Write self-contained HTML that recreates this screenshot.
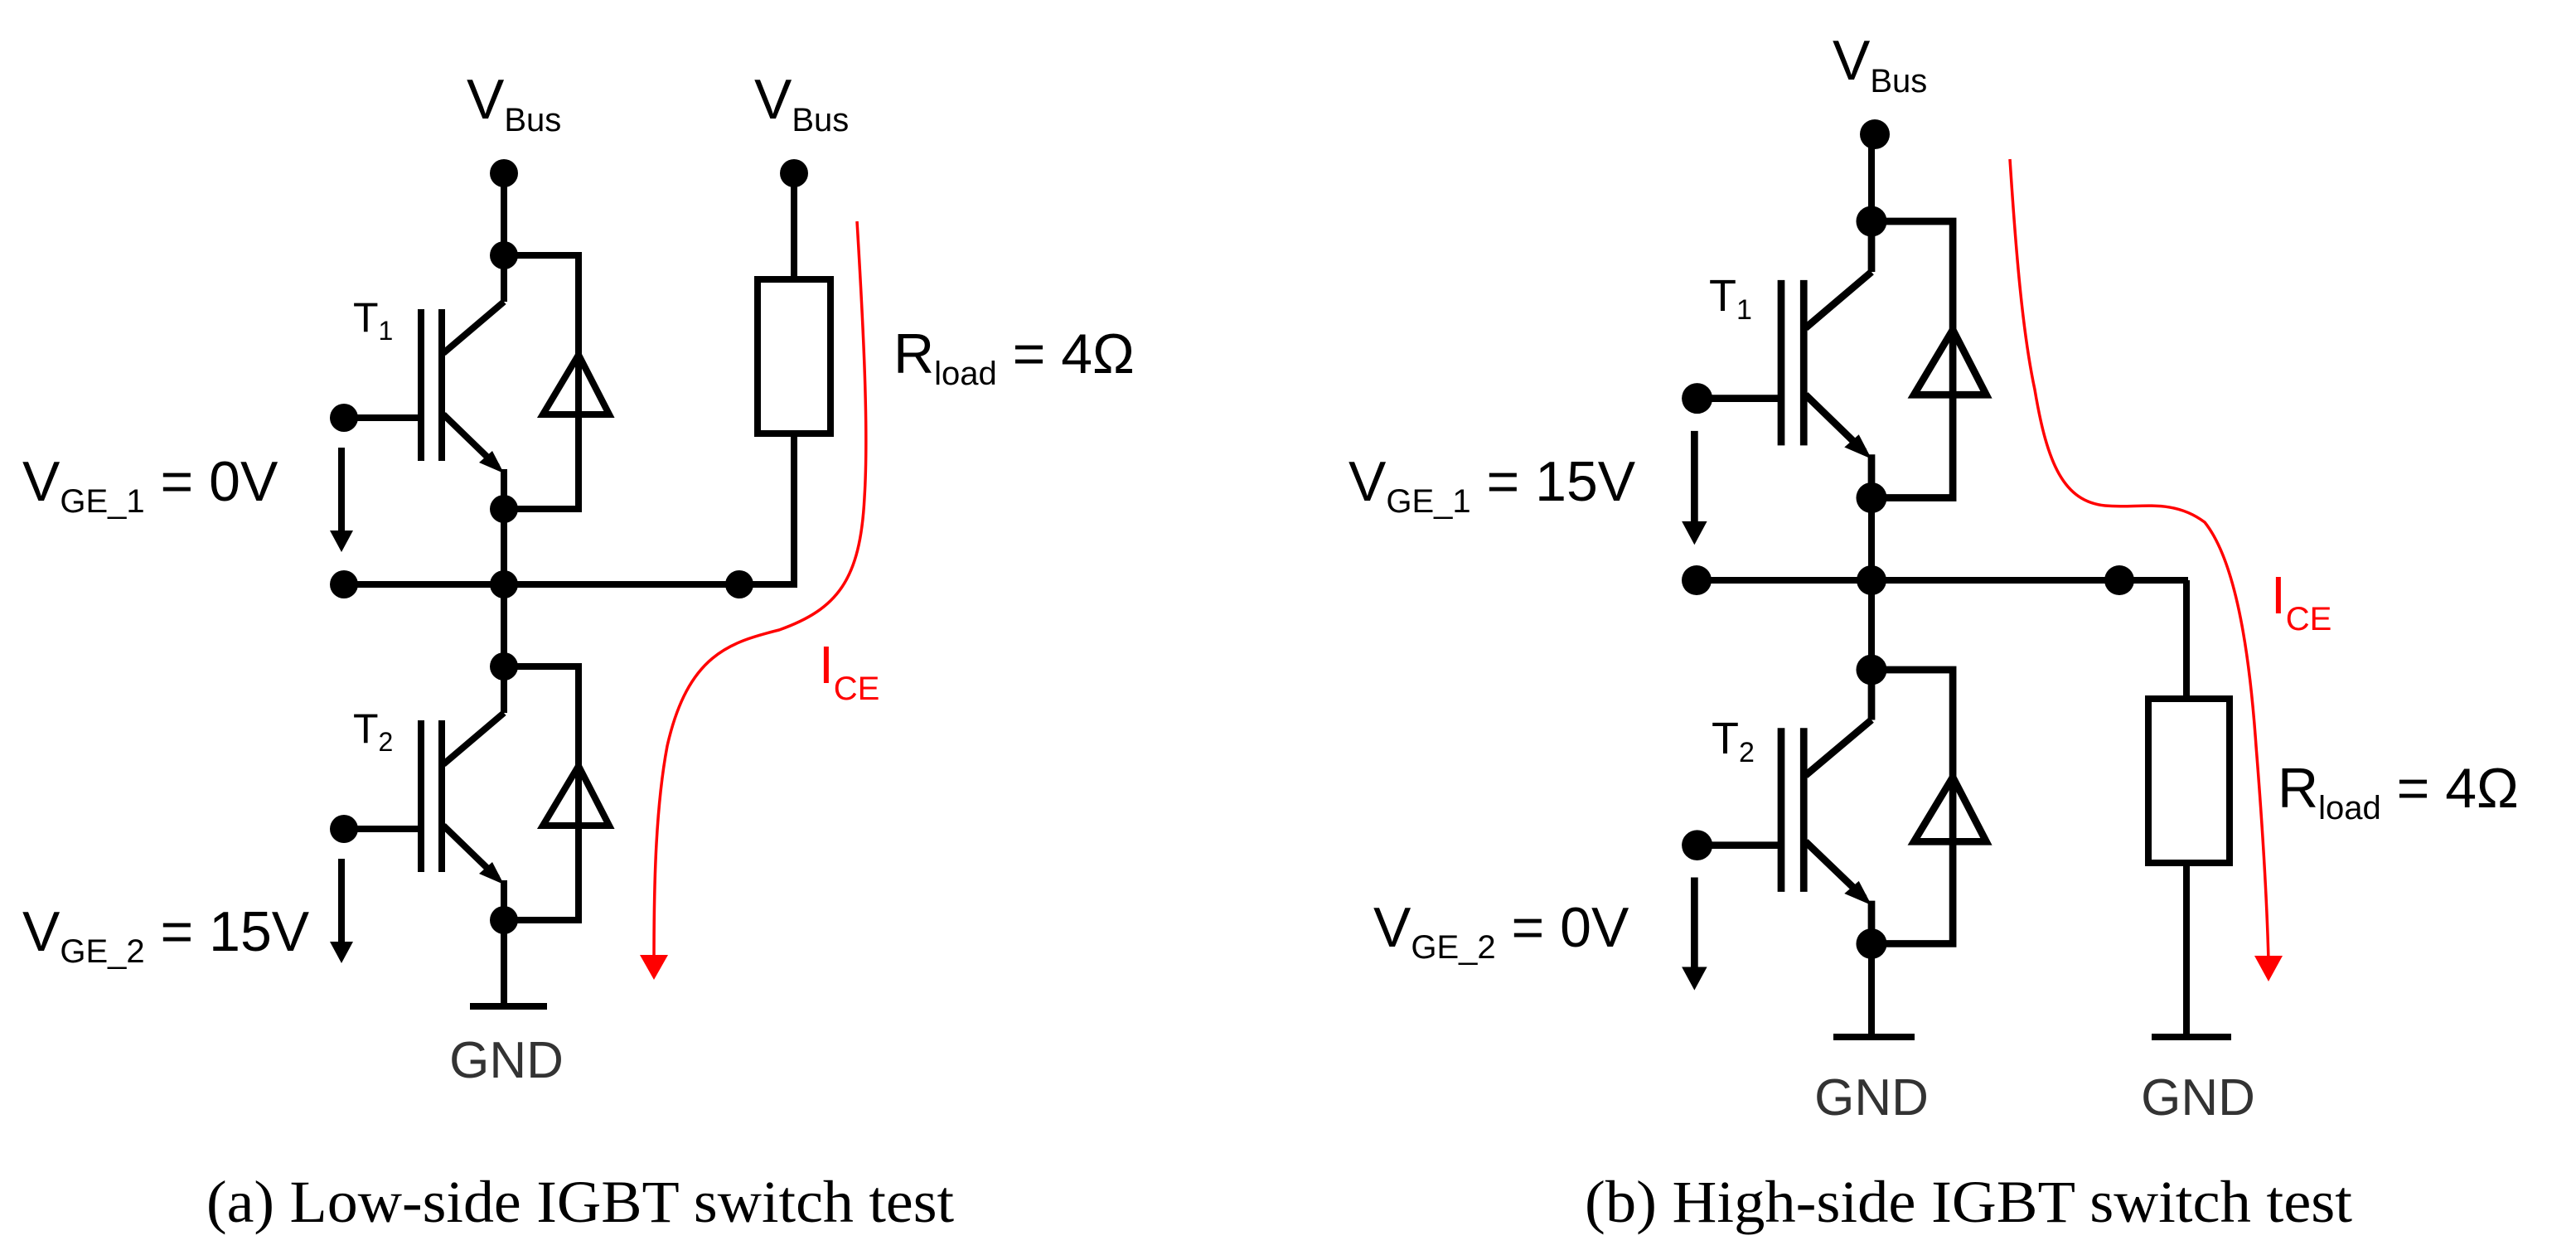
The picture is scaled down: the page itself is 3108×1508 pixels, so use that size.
<!DOCTYPE html>
<html><head><meta charset="utf-8"><style>html,body{margin:0;padding:0;background:#fff}svg{display:block}</style></head>
<body>
<svg width="3108" height="1508" viewBox="0 0 3108 1508" xmlns="http://www.w3.org/2000/svg">
<defs>
<g id="tr" stroke="#000" stroke-width="8" fill="none">
  <circle cx="0" cy="0" r="17" fill="#000" stroke="none"/>
  <line x1="0" y1="0" x2="0" y2="56"/>
  <line x1="0" y1="56" x2="-73" y2="118"/>
  <line x1="-75" y1="65" x2="-75" y2="248"/>
  <line x1="-100" y1="65" x2="-100" y2="248"/>
  <line x1="-100" y1="196" x2="-193" y2="196"/>
  <circle cx="-193" cy="196" r="17" fill="#000" stroke="none"/>
  <line x1="-73" y1="192" x2="-8" y2="255"/>
  <polygon points="0,263 -30,250 -14,236" fill="#000" stroke="none"/>
  <line x1="0" y1="258" x2="0" y2="306"/>
  <circle cx="0" cy="306" r="17" fill="#000" stroke="none"/>
  <polyline points="0,0 90,0 90,306 0,306"/>
  <polygon points="90,120 47,192 127,192"/>
  <line x1="-196" y1="232" x2="-196" y2="340"/>
  <polygon points="-210,332 -182,332 -196,358" fill="#000" stroke="none"/>
</g>
</defs>

<!-- LEFT CIRCUIT -->
<g stroke="#000" stroke-width="8" fill="none">
  <circle cx="608" cy="209" r="17" fill="#000" stroke="none"/>
  <line x1="608" y1="209" x2="608" y2="308"/>
  <line x1="608" y1="614" x2="608" y2="804"/>
  <line x1="415" y1="705" x2="962" y2="705"/>
  <circle cx="415" cy="705" r="17" fill="#000" stroke="none"/>
  <circle cx="608" cy="705" r="17" fill="#000" stroke="none"/>
  <circle cx="892" cy="705" r="17" fill="#000" stroke="none"/>
  <line x1="958" y1="705" x2="958" y2="525"/>
  <rect x="914" y="337" width="88" height="186"/>
  <line x1="958" y1="337" x2="958" y2="209"/>
  <circle cx="958" cy="209" r="17" fill="#000" stroke="none"/>
  <line x1="608" y1="1110" x2="608" y2="1214"/>
  <line x1="567" y1="1214" x2="660" y2="1214"/>
</g>
<use href="#tr" transform="translate(608,308)"/>
<use href="#tr" transform="translate(608,804)"/>
<path d="M1034,267 C1042,400 1048,520 1043,600 C1038,700 1010,735 940,760 C880,775 830,790 805,900 C790,980 789,1080 789,1160" stroke="#f00" stroke-width="3.5" fill="none"/>
<polygon points="772,1152 806,1152 789,1182" fill="#f00"/>

<g font-family="Liberation Sans, sans-serif" fill="#000">
  <text x="563" y="143" font-size="68">V<tspan font-size="40" dy="15">Bus</tspan></text>
  <text x="910" y="143" font-size="68">V<tspan font-size="40" dy="15">Bus</tspan></text>
  <text x="426" y="400" font-size="50">T<tspan font-size="32" dy="10">1</tspan></text>
  <text x="426" y="896" font-size="50">T<tspan font-size="32" dy="10">2</tspan></text>
  <text x="27" y="604" font-size="68">V<tspan font-size="40" dy="14">GE_1</tspan><tspan dy="-14"> = 0V</tspan></text>
  <text x="27" y="1147" font-size="68">V<tspan font-size="40" dy="14">GE_2</tspan><tspan dy="-14"> = 15V</tspan></text>
  <text x="1078" y="450" font-size="68">R<tspan font-size="40" dy="14">load</tspan><tspan dy="-14"> = 4Ω</tspan></text>
  <text x="988" y="824" font-size="64" fill="#f00">I<tspan font-size="40" dy="20">CE</tspan></text>
  <text x="611" y="1300" font-size="62" fill="#333" text-anchor="middle">GND</text>
</g>

<!-- RIGHT CIRCUIT -->
<g stroke="#000" stroke-width="8" fill="none">
  <circle cx="2262" cy="162" r="18" fill="#000" stroke="none"/>
  <line x1="2258" y1="162" x2="2258" y2="267"/>
  <line x1="2258" y1="601" x2="2258" y2="808"/>
  <line x1="2047" y1="700" x2="2640" y2="700"/>
  <circle cx="2047" cy="700" r="18" fill="#000" stroke="none"/>
  <circle cx="2258" cy="700" r="18" fill="#000" stroke="none"/>
  <circle cx="2557" cy="700" r="18" fill="#000" stroke="none"/>
  <line x1="2638" y1="700" x2="2638" y2="843"/>
  <rect x="2592" y="843" width="98" height="198"/>
  <line x1="2638" y1="1041" x2="2638" y2="1251"/>
  <line x1="2596" y1="1251" x2="2692" y2="1251"/>
  <line x1="2258" y1="1139" x2="2258" y2="1251"/>
  <line x1="2212" y1="1251" x2="2310" y2="1251"/>
</g>
<use href="#tr" transform="translate(2258,267) scale(1.09)"/>
<use href="#tr" transform="translate(2258,808) scale(1.09,1.08)"/>
<path d="M2425,192 C2432,300 2440,400 2455,470 C2470,560 2490,605 2540,610 C2580,614 2620,600 2660,630 C2700,680 2715,800 2722,900 C2730,1000 2735,1080 2737,1160" stroke="#f00" stroke-width="3.5" fill="none"/>
<polygon points="2720,1153 2754,1153 2737,1184" fill="#f00"/>

<g font-family="Liberation Sans, sans-serif" fill="#000">
  <text x="2211" y="96" font-size="68">V<tspan font-size="40" dy="15">Bus</tspan></text>
  <text x="2062" y="375" font-size="54">T<tspan font-size="34" dy="10">1</tspan></text>
  <text x="2065" y="909" font-size="54">T<tspan font-size="34" dy="10">2</tspan></text>
  <text x="1627" y="604" font-size="68">V<tspan font-size="40" dy="14">GE_1</tspan><tspan dy="-14"> = 15V</tspan></text>
  <text x="1657" y="1142" font-size="68">V<tspan font-size="40" dy="14">GE_2</tspan><tspan dy="-14"> = 0V</tspan></text>
  <text x="2748" y="974" font-size="68">R<tspan font-size="40" dy="14">load</tspan><tspan dy="-14"> = 4Ω</tspan></text>
  <text x="2740" y="740" font-size="64" fill="#f00">I<tspan font-size="40" dy="20">CE</tspan></text>
  <text x="2258" y="1345" font-size="62" fill="#333" text-anchor="middle">GND</text>
  <text x="2652" y="1345" font-size="62" fill="#333" text-anchor="middle">GND</text>
</g>

<!-- CAPTIONS -->
<g font-family="Liberation Serif, serif" font-size="72" fill="#000">
  <text x="249" y="1474" textLength="902" lengthAdjust="spacingAndGlyphs">(a) Low-side IGBT switch test</text>
  <text x="1912" y="1474" textLength="926" lengthAdjust="spacingAndGlyphs">(b) High-side IGBT switch test</text>
</g>
</svg>
</body></html>
